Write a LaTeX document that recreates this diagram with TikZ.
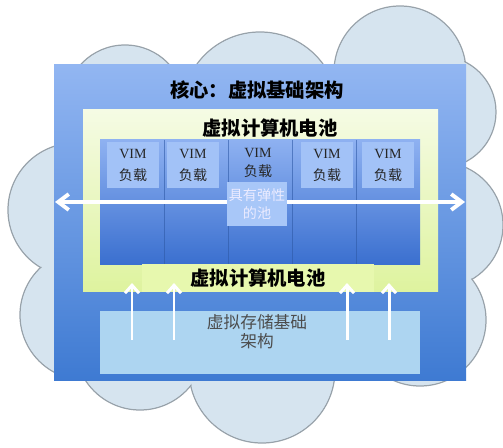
\documentclass[tikz,border=0pt]{standalone}
\usepackage{fontspec}
\setmainfont{Liberation Serif}
\newfontfamily\cjk{Noto Sans CJK SC}
\usetikzlibrary{arrows.meta, fit, positioning}
\definecolor{cloudfill}{HTML}{D6E4EF}
\definecolor{cloudline}{HTML}{98A2AA}
\definecolor{coretop}{HTML}{92B6F2}
\definecolor{corebot}{HTML}{3E7AD2}
\definecolor{greentop}{HTML}{F5FBE4}
\definecolor{greenbot}{HTML}{DEF39E}
\definecolor{greenband}{HTML}{E7F8AE}
\definecolor{pooltop}{HTML}{8EB1F1}
\definecolor{poolmid}{HTML}{7099E4}
\definecolor{poolbot}{HTML}{3A6FCF}
\definecolor{labelfill}{HTML}{A2C2F7}
\definecolor{elasticfill}{HTML}{A8C7F8}
\definecolor{storfill}{HTML}{ADD5F1}

\begin{document}
\begin{tikzpicture}[x=0.02cm, y=-0.02cm,
    every node/.style={inner sep=0pt},
    cloudpuff/.style={draw=cloudline, line width=0.7pt, fill=cloudfill},
    panel/.style={inner sep=0pt, draw=none},
    colline/.style={draw=poolbot!80!black, line width=0.5pt, opacity=0.6},
    title/.style={font=\cjk\bfseries\fontsize{11}{13}\selectfont, text=black},
    vimbox/.style={fill=labelfill, minimum width=1.04cm, minimum height=0.92cm,
        align=center, font=\fontsize{8}{12.5}\selectfont, text=black!85},
    elastic/.style={fill=elasticfill, minimum width=1.2cm, minimum height=0.88cm,
        align=center, font=\cjk\fontsize{8}{10.2}\selectfont, text=white!92!blue},
    storelabel/.style={align=center, font=\cjk\fontsize{9.5}{10.8}\selectfont, text=black!70},
    flow/.style={draw=white, line width=1.7pt, -{Straight Barb[length=4.5pt, width=8pt]}},
    spread/.style={draw=white, line width=2.2pt,
        {Straight Barb[length=6pt, width=9pt]}-{Straight Barb[length=6pt, width=9pt]}}]
    \useasboundingbox (0,0) rectangle (503,448);
    % cloud
    \foreach \cx/\cy/\r in {125/105/60, 260/110/78, 400/72/66, 440/112/56, 440/225/63,
        420/320/66, 262/370/73, 140/345/65, 75/210/67, 85/315/65}
        \filldraw[cloudpuff] (\cx,\cy) circle[radius=\r];
    \foreach \cx/\cy/\r in {125/105/60, 260/110/78, 400/72/66, 440/112/56, 440/225/63,
        420/320/66, 262/370/73, 140/345/65, 75/210/67, 85/315/65}
        \fill[cloudfill] (\cx,\cy) circle[radius=\r-1];
    \fill[cloudfill] (120,110) rectangle (420,360);

    \node[panel, fit={(54,65) (466,381)}, top color=coretop, bottom color=corebot] (core) {};
    \node[title] (coretitle) at (257,90) {核心：虚拟基础架构};

    \node[panel, fit={(83,110) (438,292)}, top color=greentop, bottom color=greenbot] (frame) {};
    \node[title] (frametitle) at (270,128) {虚拟计算机电池};

    \node[panel, fit={(100,140) (420,265)}, top color=pooltop, middle color=poolmid, bottom color=poolbot] (pool) {};
    \foreach \x in {164,228,292,356}
        \draw[colline] (\x,140) -- (\x,265);
    \foreach \n/\x in {1/133,2/193,4/327,5/388}
        \node[vimbox] (vm\n) at (\x,165) {VIM\\{\cjk 负载}};
    \node[align=center, font=\fontsize{8}{11}\selectfont, text=black!85] (vm3) at (258,163) {VIM\\{\cjk 负载}};

    \coordinate (westend) at (55,202);
    \coordinate (eastend) at (465,202);
    \draw[spread] (westend) -- (eastend);
    \node[elastic] (elasticpool) at (257,204) {具有弹性\\的池};

    \node[panel, fit={(142,264) (374,292)}, fill=greenband] (band) {};
    \node[title] (bandtitle) at (band.center) {虚拟计算机电池};

    \node[panel, fit={(100,311) (420,374)}, fill=storfill] (store) {};
    \node[storelabel] (storetext) at (257,332) {虚拟存储基础\\架构};

    \foreach \x [count=\i] in {132,174,347,389} {
        \coordinate (src\i) at (\x,340);
        \coordinate (dst\i) at (\x,283);
        \draw[flow] (src\i) -- (dst\i);
    }
\end{tikzpicture}
\end{document}
